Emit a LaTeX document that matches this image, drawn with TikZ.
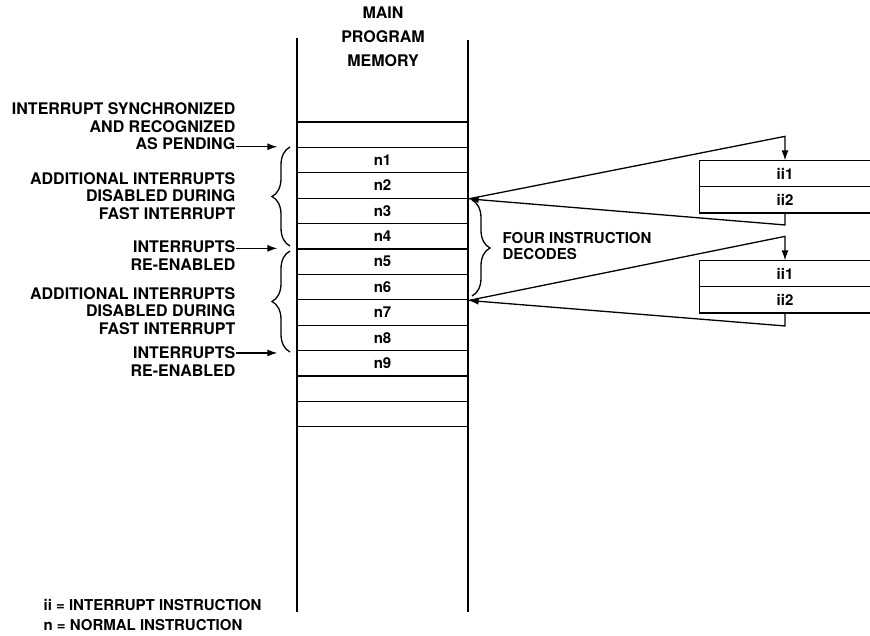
\documentclass[tikz,border=0pt]{standalone}
\usepackage{fontspec}
\setmainfont{TeX Gyre Heros}
\usetikzlibrary{positioning, arrows.meta, decorations.pathreplacing}

\begin{document}
\begin{tikzpicture}[
    x=1pt, y=-1pt, line width=1.3pt, font=\bfseries,
    cell/.style={rectangle, draw, minimum width=171pt, minimum height=25.4pt,
                 inner sep=0pt, font=\fontsize{15}{15}\selectfont\bfseries},
    icell/.style={rectangle, minimum width=170pt, minimum height=25pt,
                  inner sep=0pt, font=\fontsize{15}{15}\selectfont\bfseries},
    lbl/.style={align=right, anchor=east, inner sep=0pt,
                font=\fontsize{16}{17.5}\selectfont\bfseries},
    note/.style={align=left, anchor=west, inner sep=0pt},
    brc/.style={decorate, decoration={brace, amplitude=18pt}},
    jmp/.style={-{Latex[length=10pt, width=7pt]}}
]
  \useasboundingbox (0,0) rectangle (870,635);

  % Main program memory
  \node[align=center, font=\fontsize{16}{24}\selectfont\bfseries] (title) at (383,37)
       {MAIN\\PROGRAM\\MEMORY};
  \draw (297,38) -- (297,612);
  \draw (468,40) -- (468,612);
  \foreach \t [count=\i] in {{},n1,n2,n3,n4,n5,n6,n7,n8,n9,{},{}}
    \node[cell] (m\i) at (382.5,109.3+25.4*\i) {\t};

  % Interrupt routines
  \node[icell] (ia1) at (785,173.5) {ii1};
  \node[icell, below=0pt of ia1] (ia2) {ii2};
  \draw (ia1.north east) -| (ia2.south west) -- (ia2.south east);
  \draw (ia1.south west) -- (ia1.south east);

  \node[icell] (ib1) at (785,273.5) {ii1};
  \node[icell, below=0pt of ib1] (ib2) {ii2};
  \draw (ib1.north east) -| (ib2.south west) -- (ib2.south east);
  \draw (ib1.south west) -- (ib1.south east);

  % Jumps and returns
  \draw[jmp] (m3.south east) -- ([yshift=24pt]ia1.north) -- (ia1.north);
  \draw[jmp] (ia2.south) -- ([yshift=-12pt]ia2.south) -- (m3.south east);
  \draw[jmp] (m7.south east) -- ([yshift=24pt]ib1.north) -- (ib1.north);
  \draw[jmp] (ib2.south) -- ([yshift=-13pt]ib2.south) -- (m7.south east);

  % Left labels
  \node[lbl] (sync) at (236,126.5)
       {INTERRUPT SYNCHRONIZED\\AND RECOGNIZED\\AS PENDING};
  \coordinate[left=19pt of m2.north west] (p1);
  \draw[jmp] (sync.east |- p1) -- (p1);

  \node[lbl] (add1) at (236,196)
       {ADDITIONAL INTERRUPTS\\DISABLED DURING\\FAST INTERRUPT};
  \node[lbl] (ren1) at (236,255.5) {INTERRUPTS\\RE-ENABLED};
  \coordinate[left=19pt of m6.north west] (p2);
  \draw[jmp] (ren1.east |- p2) -- (p2);

  \node[lbl] (add2) at (236,311)
       {ADDITIONAL INTERRUPTS\\DISABLED DURING\\FAST INTERRUPT};
  \node[lbl] (ren2) at (236,361.5) {INTERRUPTS\\RE-ENABLED};
  \coordinate[left=19pt of m10.north west, yshift=-3pt] (p3);
  \draw[jmp] (ren2.east |- p3) -- (p3);

  % Braces
  \draw[brc] (290,246) -- (290,147);
  \draw[brc] (290,352) -- (290,251);
  \draw[brc] (472,200) -- (472,296);
  \node[note, font=\fontsize{15}{15.5}\selectfont\bfseries] (dec) at (502,246)
       {FOUR INSTRUCTION\\DECODES};

  % Key
  \node[note, font=\fontsize{15}{20}\selectfont\bfseries] (key) at (43,615)
       {ii = INTERRUPT INSTRUCTION\\n = NORMAL INSTRUCTION};
\end{tikzpicture}
\end{document}
